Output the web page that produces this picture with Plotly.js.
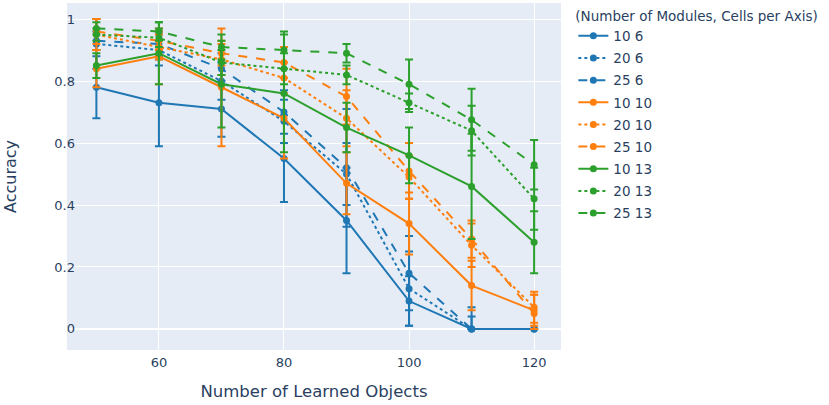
<!DOCTYPE html>
<html>
<head>
<meta charset="utf-8">
<script src="https://cdn.plot.ly/plotly-3.0.1.min.js"></script>
<style>html,body{margin:0;padding:0;background:#fff;}#chart{width:829px;height:405px;}</style>
</head>
<body>
<div id="chart"></div>
<script>
const objects = [50, 60, 70, 80, 90, 100, 110, 120];

const names = ["10 6", "20 6", "25 6", "10 10", "20 10", "25 10", "10 13", "20 13", "25 13"];

const acc_10_6  = [0.78, 0.73, 0.71, 0.55, 0.35, 0.09, 0.00, 0.00];
const acc_20_6  = [0.92, 0.90, 0.80, 0.67, 0.50, 0.13, 0.00, 0.00];
const acc_25_6  = [0.93, 0.92, 0.84, 0.70, 0.52, 0.18, 0.00, 0.00];
const acc_10_10 = [0.84, 0.88, 0.78, 0.68, 0.47, 0.34, 0.14, 0.06];
const acc_20_10 = [0.95, 0.91, 0.87, 0.81, 0.68, 0.49, 0.27, 0.07];
const acc_25_10 = [0.96, 0.93, 0.89, 0.86, 0.75, 0.51, 0.29, 0.05];
const acc_10_13 = [0.85, 0.89, 0.79, 0.76, 0.65, 0.56, 0.46, 0.28];
const acc_20_13 = [0.95, 0.94, 0.86, 0.84, 0.82, 0.73, 0.64, 0.42];
const acc_25_13 = [0.97, 0.96, 0.91, 0.90, 0.89, 0.79, 0.675, 0.53];

const err_10_6  = [0.10, 0.14, 0.09, 0.14, 0.17, 0.08, 0.00, 0.00];
const err_20_6  = [0.08, 0.05, 0.06, 0.07, 0.10, 0.12, 0.04, 0.00];
const err_25_6  = [0.03, 0.04, 0.05, 0.07, 0.19, 0.12, 0.07, 0.00];
const err_10_10 = [0.06, 0.09, 0.19, 0.13, 0.10, 0.10, 0.08, 0.05];
const err_20_10 = [0.05, 0.04, 0.05, 0.05, 0.09, 0.07, 0.07, 0.05];
const err_25_10 = [0.04, 0.03, 0.04, 0.05, 0.09, 0.09, 0.06, 0.06];
const err_10_13 = [0.04, 0.10, 0.14, 0.19, 0.08, 0.09, 0.17, 0.10];
const err_20_13 = [0.02, 0.03, 0.04, 0.05, 0.03, 0.03, 0.08, 0.10];
const err_25_13 = [0.02, 0.03, 0.04, 0.06, 0.03, 0.08, 0.10, 0.08];

const colors = ["#1f77b4", "#1f77b4", "#1f77b4", "#ff7f0e", "#ff7f0e", "#ff7f0e", "#2ca02c", "#2ca02c", "#2ca02c"];
const dashes = ["solid", "dot", "dash", "solid", "dot", "dash", "solid", "dot", "dash"];

const values = [acc_10_6, acc_20_6, acc_25_6, acc_10_10, acc_20_10, acc_25_10, acc_10_13, acc_20_13, acc_25_13];
const errors = [err_10_6, err_20_6, err_25_6, err_10_10, err_20_10, err_25_10, err_10_13, err_20_13, err_25_13];

const traces = names.map((n, i) => ({
  type: "scatter",
  mode: "lines+markers",
  name: n,
  legendgroup: n,
  x: objects,
  y: values[i],
  line: {color: colors[i], dash: dashes[i], width: 2},
  marker: {color: colors[i], size: 7},
  error_y: {
    type: "data",
    symmetric: false,
    array: errors[i].map((e, k) => Math.min(e, 1 - values[i][k])),
    arrayminus: errors[i].map((e, k) => Math.min(e, values[i][k])),
    color: colors[i],
    thickness: 2,
    width: 4
  }
}));

const layout = {
  width: 829,
  height: 405,
  margin: {l: 67, r: 268, t: 3, b: 55},
  paper_bgcolor: "#ffffff",
  plot_bgcolor: "#E5ECF6",
  font: {family: "DejaVu Sans, Verdana, sans-serif", color: "#2a3f5f", size: 13},
  showlegend: true,
  legend: {
    title: {text: "(Number of Modules, Cells per Axis)", font: {size: 13.5}},
    font: {size: 13.5},
    traceorder: "grouped",
    tracegroupgap: 1.6,
    x: 1.025, xanchor: "left", y: 1, yanchor: "top"
  },
  xaxis: {
    title: {text: "Number of Learned Objects", font: {size: 16.5}, standoff: 16},
    automargin: true,
    range: [45.3, 124.3],
    tickvals: [60, 80, 100, 120],
    gridcolor: "#ffffff",
    linecolor: "#ffffff",
    zeroline: false,
    ticks: ""
  },
  yaxis: {
    title: {text: "Accuracy", font: {size: 16}, standoff: 33},
    automargin: true,
    range: [-0.068, 1.052],
    tickvals: [0, 0.2, 0.4, 0.6, 0.8, 1],
    ticktext: ["0", "0.2", "0.4", "0.6", "0.8", "1"],
    ticklabelstandoff: -9,
    gridcolor: "#ffffff",
    zeroline: true,
    zerolinecolor: "#ffffff",
    zerolinewidth: 2,
    ticks: ""
  }
};

Plotly.newPlot("chart", traces, layout, {displayModeBar: false});
</script>
</body>
</html>
